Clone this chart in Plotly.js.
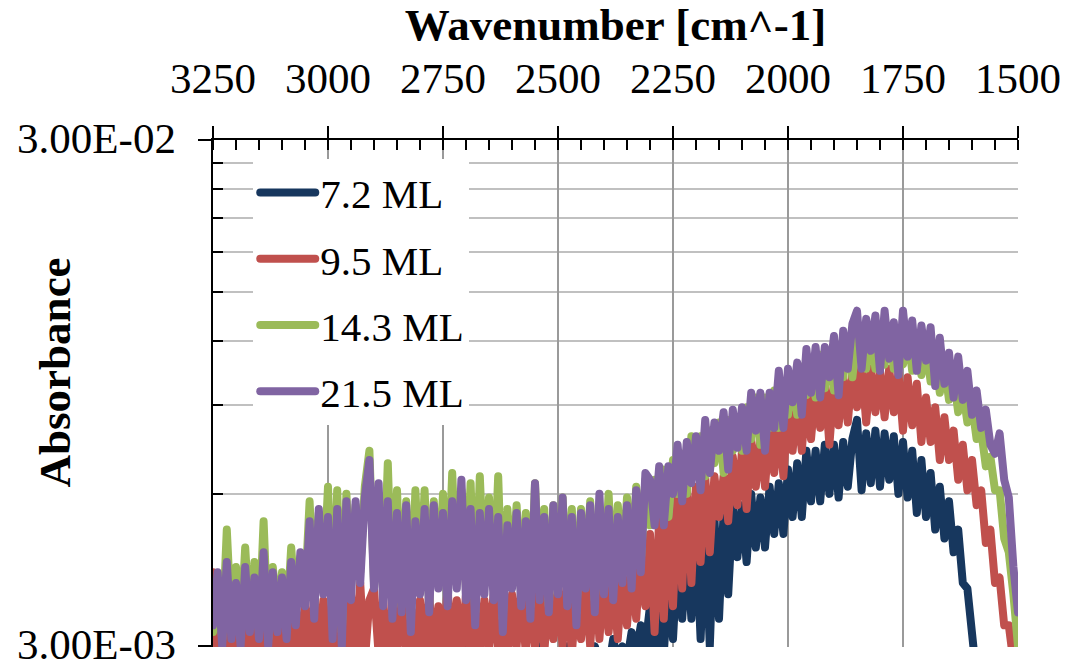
<!DOCTYPE html>
<html>
<head>
<meta charset="utf-8">
<script src="https://cdn.plot.ly/plotly-3.0.1.min.js"></script>
<style>
html,body{margin:0;padding:0;background:#fff;}
#chart .scatterlayer .js-line{stroke-linejoin:round;stroke-linecap:round;}
</style>
</head>
<body>
<div id="chart" style="width:1071px;height:669px;"></div>
<script>
// Wavenumber grid [cm^-1]
const wavenumber = [3250,3240,3230,3220,3210,3200,3190,3180,3170,3160,3150,3140,3130,3120,3110,3100,3090,3080,3070,3060,3050,3040,3030,3020,3010,3000,2990,2980,2970,2960,2950,2940,2930,2920,2910,2900,2890,2880,2870,2860,2850,2840,2830,2820,2810,2800,2790,2780,2770,2760,2750,2740,2730,2720,2710,2700,2690,2680,2670,2660,2650,2640,2630,2620,2610,2600,2590,2580,2570,2560,2550,2540,2530,2520,2510,2500,2490,2480,2470,2460,2450,2440,2430,2420,2410,2400,2390,2380,2370,2360,2350,2340,2330,2320,2310,2300,2290,2280,2270,2260,2250,2240,2230,2220,2210,2200,2190,2180,2170,2160,2150,2140,2130,2120,2110,2100,2090,2080,2070,2060,2050,2040,2030,2020,2010,2000,1990,1980,1970,1960,1950,1940,1930,1920,1910,1900,1890,1880,1870,1860,1850,1840,1830,1820,1810,1800,1790,1780,1770,1760,1750,1740,1730,1720,1710,1700,1690,1680,1670,1660,1650,1640,1630,1620,1610,1600,1590,1580,1570,1560,1550,1540,1530,1520,1510,1500];

const seriesNames = ['7.2 ML','9.5 ML','14.3 ML','21.5 ML'];

const abs72 = [0.0025,0.0027,0.0024,0.0028,0.0026,
0.0029,0.0025,0.0027,0.0024,0.0028,
0.0026,0.0029,0.0025,0.0028,0.0026,
0.0027,0.0025,0.0029,0.0026,0.0028,
0.0026,0.0030,0.0027,0.0029,0.0033,
0.0028,0.0032,0.0026,0.0029,0.0027,
0.0029,0.0026,0.0030,0.0027,0.0028,
0.0026,0.0029,0.0027,0.0030,0.0026,
0.0028,0.0025,0.0029,0.0027,0.0031,
0.0027,0.0030,0.0026,0.0028,0.0029,
0.0026,0.0031,0.0027,0.0029,0.0026,
0.0030,0.0027,0.0029,0.0025,0.0028,
0.0027,0.0029,0.0026,0.0030,0.0027,
0.0028,0.0026,0.0029,0.0027,0.0028,
0.0026,0.0030,0.0027,0.0029,0.0026,
0.0029,0.0027,0.0030,0.0026,0.0028,
0.0027,0.0029,0.0026,0.0030,0.0028,
0.0029,0.0027,0.0031,0.0028,0.0030,
0.0028,0.0032,0.0029,0.0033,0.0030,
0.0036,0.0028,0.0039,0.0029,0.0041,
0.0031,0.0046,0.0034,0.0047,0.0034,
0.0051,0.0031,0.0052,0.0030,0.0054,
0.0034,0.0055,0.0038,0.0057,0.0045,
0.0057,0.0044,0.0060,0.0047,0.0059,
0.0047,0.0062,0.0050,0.0063,0.0050,
0.0067,0.0054,0.0069,0.0054,0.0073,
0.0058,0.0073,0.0058,0.0075,0.0060,
0.0075,0.0059,0.0076,0.0062,0.0077,
0.0084,0.0061,0.0079,0.0063,0.0080,
0.0062,0.0079,0.0064,0.0078,0.0060,
0.0076,0.0059,0.0073,0.0055,0.0070,
0.0054,0.0066,0.0051,0.0062,0.0049,
0.0058,0.0046,0.0051,0.0040,0.0039,
0.0029,0.0026,0.0024,0.0023,0.0022,
0.0021,0.0020,0.0020,0.0019,0.0019,
0.0018];

const abs95 = [0.0042,0.0028,0.0036,0.0027,0.0034,
0.0028,0.0035,0.0027,0.0034,0.0028,
0.0034,0.0027,0.0036,0.0028,0.0035,
0.0028,0.0034,0.0027,0.0036,0.0029,
0.0036,0.0028,0.0038,0.0029,0.0037,
0.0029,0.0036,0.0028,0.0039,0.0028,
0.0038,0.0029,0.0040,0.0028,0.0037,
0.0039,0.0029,0.0037,0.0028,0.0036,
0.0030,0.0038,0.0028,0.0036,0.0029,
0.0037,0.0029,0.0038,0.0028,0.0036,
0.0029,0.0039,0.0028,0.0037,0.0029,
0.0038,0.0029,0.0039,0.0028,0.0037,
0.0030,0.0038,0.0029,0.0039,0.0028,
0.0038,0.0030,0.0039,0.0029,0.0038,
0.0030,0.0040,0.0029,0.0039,0.0031,
0.0039,0.0030,0.0041,0.0029,0.0038,
0.0031,0.0040,0.0030,0.0042,0.0031,
0.0041,0.0032,0.0040,0.0031,0.0042,
0.0033,0.0043,0.0034,0.0045,0.0036,
0.0050,0.0032,0.0054,0.0034,0.0055,
0.0036,0.0059,0.0039,0.0063,0.0040,
0.0062,0.0044,0.0065,0.0046,0.0065,
0.0054,0.0065,0.0053,0.0071,0.0057,
0.0073,0.0056,0.0077,0.0062,0.0077,
0.0062,0.0081,0.0066,0.0084,0.0065,
0.0089,0.0073,0.0090,0.0073,0.0096,
0.0077,0.0097,0.0081,0.0100,0.0075,
0.0099,0.0082,0.0101,0.0083,0.0106,
0.0089,0.0108,0.0083,0.0106,0.0087,
0.0105,0.0085,0.0106,0.0087,0.0104,
0.0080,0.0102,0.0082,0.0099,0.0076,
0.0093,0.0076,0.0089,0.0070,0.0085,
0.0070,0.0080,0.0064,0.0075,0.0061,
0.0070,0.0057,0.0061,0.0048,0.0051,
0.0040,0.0041,0.0033,0.0033,0.0028,
0.0026];

const abs143 = [0.0032,0.0039,0.0031,0.0051,0.0033,
0.0043,0.0032,0.0047,0.0033,0.0044,
0.0032,0.0053,0.0031,0.0043,0.0034,
0.0042,0.0033,0.0047,0.0035,0.0045,
0.0038,0.0058,0.0036,0.0055,0.0040,
0.0062,0.0033,0.0061,0.0032,0.0060,
0.0039,0.0057,0.0042,0.0062,0.0073,
0.0040,0.0060,0.0038,0.0069,0.0036,
0.0061,0.0036,0.0058,0.0034,0.0061,
0.0039,0.0061,0.0036,0.0058,0.0040,
0.0060,0.0038,0.0066,0.0040,0.0061,
0.0039,0.0063,0.0035,0.0065,0.0040,
0.0059,0.0039,0.0065,0.0034,0.0056,
0.0041,0.0057,0.0038,0.0055,0.0036,
0.0063,0.0039,0.0056,0.0036,0.0057,
0.0040,0.0059,0.0038,0.0056,0.0035,
0.0056,0.0040,0.0058,0.0037,0.0055,
0.0040,0.0060,0.0039,0.0057,0.0042,
0.0059,0.0041,0.0062,0.0044,0.0064,
0.0052,0.0064,0.0055,0.0067,0.0054,
0.0070,0.0060,0.0072,0.0060,0.0078,
0.0066,0.0078,0.0065,0.0080,0.0069,
0.0083,0.0066,0.0084,0.0073,0.0085,
0.0073,0.0089,0.0077,0.0093,0.0075,
0.0093,0.0081,0.0096,0.0081,0.0100,
0.0086,0.0103,0.0086,0.0107,0.0094,
0.0110,0.0093,0.0113,0.0097,0.0115,
0.0096,0.0118,0.0102,0.0121,0.0102,
0.0124,0.0119,0.0106,0.0125,0.0106,
0.0123,0.0108,0.0126,0.0106,0.0121,
0.0108,0.0124,0.0105,0.0120,0.0103,
0.0118,0.0100,0.0113,0.0095,0.0108,
0.0092,0.0102,0.0087,0.0096,0.0083,
0.0090,0.0077,0.0080,0.0068,0.0071,
0.0061,0.0061,0.0049,0.0046,0.0038,
0.0030];

const abs215 = [0.0033,0.0042,0.0030,0.0044,0.0031,
0.0040,0.0030,0.0043,0.0032,0.0041,
0.0031,0.0046,0.0030,0.0042,0.0032,
0.0041,0.0031,0.0044,0.0033,0.0046,
0.0036,0.0053,0.0034,0.0056,0.0038,
0.0054,0.0031,0.0056,0.0030,0.0058,
0.0037,0.0058,0.0040,0.0059,0.0070,
0.0039,0.0063,0.0036,0.0058,0.0034,
0.0055,0.0035,0.0057,0.0032,0.0053,
0.0038,0.0056,0.0035,0.0057,0.0039,
0.0055,0.0036,0.0058,0.0039,0.0064,
0.0037,0.0056,0.0033,0.0055,0.0038,
0.0056,0.0037,0.0054,0.0032,0.0052,
0.0039,0.0055,0.0036,0.0053,0.0034,
0.0063,0.0037,0.0054,0.0035,0.0057,
0.0038,0.0059,0.0036,0.0054,0.0033,
0.0055,0.0039,0.0057,0.0035,0.0060,
0.0038,0.0056,0.0037,0.0054,0.0040,
0.0057,0.0039,0.0061,0.0042,0.0066,
0.0064,0.0052,0.0068,0.0052,0.0068,
0.0060,0.0075,0.0058,0.0076,0.0063,
0.0078,0.0061,0.0084,0.0066,0.0083,
0.0073,0.0087,0.0067,0.0088,0.0074,
0.0089,0.0073,0.0095,0.0080,0.0095,
0.0073,0.0095,0.0081,0.0105,0.0081,
0.0106,0.0091,0.0109,0.0086,0.0116,
0.0095,0.0117,0.0093,0.0117,0.0102,
0.0123,0.0094,0.0126,0.0106,0.0130,
0.0138,0.0106,0.0133,0.0115,0.0135,
0.0105,0.0138,0.0111,0.0131,0.0103,
0.0138,0.0112,0.0132,0.0105,0.0129,
0.0110,0.0128,0.0098,0.0122,0.0099,
0.0114,0.0093,0.0112,0.0092,0.0105,
0.0086,0.0096,0.0081,0.0088,0.0075,
0.0072,0.0079,0.0064,0.0059,0.0043,
0.0035];

const seriesColors = ['#17375E','#C0504D','#9BBB59','#8064A2'];

const xTickVals = [3250,3000,2750,2500,2250,2000,1750,1500];
const xTickText = ['3250','3000','2750','2500','2250','2000','1750','1500'];
const yMajorVals = [0.003,0.03];
const yMajorText = ['3.00E-03','3.00E-02'];
const yMinorVals = [0.006,0.009,0.012,0.015,0.018,0.021,0.024,0.027];

const allSeries = [abs72, abs95, abs143, abs215];
const traces = allSeries.map((ys,i)=>({
  type:'scatter', mode:'lines', name:seriesNames[i],
  x:wavenumber, y:ys, legendgroup:'g'+i,
  line:{color:seriesColors[i], width:8},
  hoverinfo:'skip'
}));

const FONT = 'Liberation Serif, Times New Roman, serif';
const layout = {
  width:1071, height:669,
  margin:{l:213, r:53, t:140, b:22, pad:0},
  paper_bgcolor:'#ffffff', plot_bgcolor:'#ffffff',
  font:{family:FONT, color:'#000000'},
  showlegend:true,
  legend:{x:0.05, y:0.962, xanchor:'left', yanchor:'top', bgcolor:'#ffffff',
          font:{size:41, family:FONT}, itemwidth:57, tracegroupgap:10, borderwidth:0},
  xaxis:{range:[3250,1500], side:'top', tickmode:'array', tickvals:xTickVals, ticktext:xTickText,
         ticks:'outside', ticklen:12, tickwidth:2, tickcolor:'#000', ticklabelstandoff:16,
         showline:true, linecolor:'#000', linewidth:2, mirror:false,
         showgrid:true, gridcolor:'#9a9a9a', gridwidth:2, zeroline:false,
         tickfont:{size:43, family:FONT},
         minor:{dtick:50, tick0:1500, ticks:'inside', ticklen:10, tickwidth:2, tickcolor:'#000', showgrid:false},
         title:{text:'<b>Wavenumber [cm^-1]</b>', font:{size:45, family:FONT}, standoff:0}},
  xaxis2:{overlaying:'x', anchor:'y', side:'top', range:[3250,1500], tickmode:'array', tickvals:xTickVals,
          ticks:'inside', ticklen:12, tickwidth:2, tickcolor:'#000', showticklabels:false,
          showgrid:false, showline:false, zeroline:false},
  yaxis:{type:'log', range:[Math.log10(0.00299), Math.log10(0.030002)], tickmode:'array',
         tickvals:yMajorVals, ticktext:yMajorText, ticks:'outside', ticklen:13, tickwidth:2, tickcolor:'#000',
         ticklabelstandoff:13, ticklabelshift:-2, ticklabeloverflow:'allow',
         showline:true, linecolor:'#000', linewidth:2.5, showgrid:true, gridcolor:'#c0c0c0', gridwidth:2,
         zeroline:false, tickfont:{size:43, family:FONT},
         minor:{tickmode:'array', tickvals:yMinorVals, ticks:'inside', ticklen:10, tickwidth:2, tickcolor:'#000',
                showgrid:true, gridcolor:'#c0c0c0', gridwidth:2}},
  annotations:[{text:'<b>Absorbance</b>', textangle:-90, xref:'paper', yref:'paper',
                x:-0.196, y:0.542, xanchor:'center', yanchor:'middle', showarrow:false,
                font:{size:45, family:FONT}}]
};

const gd = document.getElementById('chart');
Plotly.newPlot(gd, traces, layout, {staticPlot:true, displayModeBar:false}).then(()=>{
  document.querySelectorAll('#chart .legend .legendlines path').forEach(p=>{
    p.setAttribute('d','M7,0h55');
    p.style.strokeLinecap='round';
  });
});
</script>
</body>
</html>
